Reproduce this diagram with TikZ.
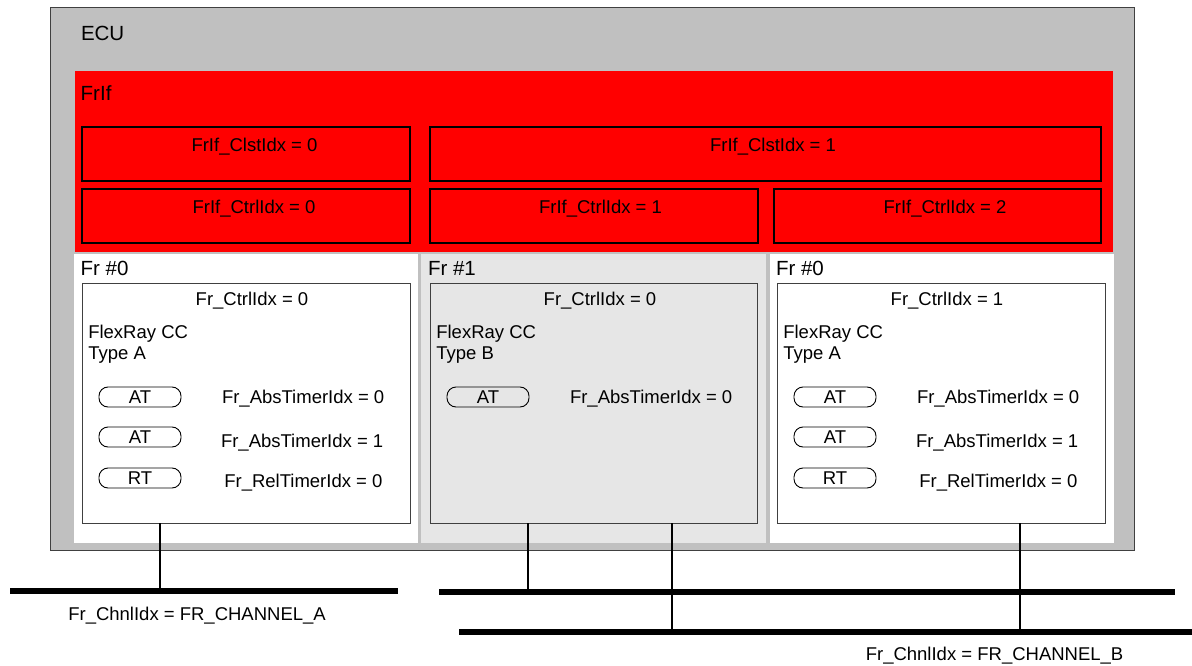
\documentclass[tikz,border=0pt]{standalone}
\usepackage{fontspec}
\setmainfont{Liberation Sans}
\begin{document}
\begin{tikzpicture}[x=1pt,y=-1pt,
  every node/.style={inner sep=0pt,outer sep=0pt},
  txt/.style={font=\fontsize{18.5}{21}\selectfont,anchor=base},
  txtl/.style={font=\fontsize{18.5}{21}\selectfont,anchor=base west},
  hdr/.style={font=\fontsize{20.5}{24}\selectfont,anchor=base west},
  ecubox/.style={draw=black!75,line width=1pt,fill=ecugray,anchor=north west},
  frifbox/.style={fill=red,anchor=north west},
  redbox/.style={draw=black,line width=1.1pt,anchor=north west},
  panelw/.style={fill=white,anchor=north west,minimum width=344,minimum height=289},
  panelg/.style={fill=lightg,anchor=north west,minimum width=345,minimum height=289},
  ccbox/.style={draw=black!75,line width=0.9pt,anchor=north west,minimum width=328,minimum height=240},
  pill/.style={draw=black,line width=0.9pt,rounded corners=9pt,minimum width=82,minimum height=20,font=\fontsize{18.5}{21}\selectfont},
  bus/.style={line width=6pt},
  tap/.style={line width=2.5pt}
]
\definecolor{ecugray}{HTML}{C0C0C0}
\definecolor{lightg}{HTML}{E6E6E6}
\useasboundingbox (0,0) rectangle (1192,666);

% ECU
\node[ecubox,minimum width=1084,minimum height=542] (ecu) at (50,8) {};
\node[hdr] (ecul) at (81,40.7) {ECU};

% FrIf
\node[frifbox,minimum width=1038,minimum height=181] (frif) at (75,71) {};
\node[hdr] (frifl) at (80.7,100.7) {FrIf};
\node[redbox,minimum width=328,minimum height=54] (clst0) at (82,127) {};
\node[redbox,minimum width=671,minimum height=54] (clst1) at (430,127) {};
\node[redbox,minimum width=328,minimum height=54] (ctrl0) at (82,189) {};
\node[redbox,minimum width=328,minimum height=54] (ctrl1) at (430,189) {};
\node[redbox,minimum width=327,minimum height=54] (ctrl2) at (774,189) {};
\node[txt] (clst0l) at (254.5,151.7) {FrIf\_ClstIdx = 0};
\node[txt] (clst1l) at (773,151.7) {FrIf\_ClstIdx = 1};
\node[txt] (ctrl0l) at (254,214) {FrIf\_CtrlIdx = 0};
\node[txt] (ctrl1l) at (600.5,214) {FrIf\_CtrlIdx = 1};
\node[txt] (ctrl2l) at (945,214) {FrIf\_CtrlIdx = 2};

% Fr panels
\node[panelw] (p1) at (74,254) {};
\node[panelg] (p2) at (421,254) {};
\node[panelw] (p3) at (770,254) {};
\node[hdr] (p1l) at (80.7,275) {Fr \#0};
\node[hdr] (p2l) at (428,275) {Fr \#1};
\node[hdr] (p3l) at (776,275) {Fr \#0};

% CC boxes
\node[ccbox,fill=white] (cc1) at (82,283) {};
\node[ccbox,fill=lightg,minimum width=327] (cc2) at (430,283) {};
\node[ccbox,fill=white] (cc3) at (777,283) {};

% CC 1
\node[txt] (cc1i) at (252,305) {Fr\_CtrlIdx = 0};
\node[txtl] (cc1a) at (88.3,338.7) {FlexRay CC};
\node[txtl] (cc1b) at (88.3,359.3) {Type A};
\node[pill] (cc1p1) at (140,397) {AT};
\node[pill] (cc1p2) at (140,437) {AT};
\node[pill] (cc1p3) at (140,478) {RT};
\node[txtl] (cc1t1) at (222,403.3) {Fr\_AbsTimerIdx = 0};
\node[txtl] (cc1t2) at (221,447.3) {Fr\_AbsTimerIdx = 1};
\node[txtl] (cc1t3) at (224.3,487.3) {Fr\_RelTimerIdx = 0};

% CC 2
\node[txt] (cc2i) at (600,305) {Fr\_CtrlIdx = 0};
\node[txtl] (cc2a) at (436.3,338.7) {FlexRay CC};
\node[txtl] (cc2b) at (436.3,359.3) {Type B};
\node[pill] (cc2p1) at (488,397) {AT};
\node[txtl] (cc2t1) at (570,403.3) {Fr\_AbsTimerIdx = 0};

% CC 3
\node[txt] (cc3i) at (947,305) {Fr\_CtrlIdx = 1};
\node[txtl] (cc3a) at (783.3,338.7) {FlexRay CC};
\node[txtl] (cc3b) at (783.3,359.3) {Type A};
\node[pill] (cc3p1) at (835,397) {AT};
\node[pill] (cc3p2) at (835,437) {AT};
\node[pill] (cc3p3) at (835,478) {RT};
\node[txtl] (cc3t1) at (917,403.3) {Fr\_AbsTimerIdx = 0};
\node[txtl] (cc3t2) at (916,447.3) {Fr\_AbsTimerIdx = 1};
\node[txtl] (cc3t3) at (919.3,487.3) {Fr\_RelTimerIdx = 0};

% buses
\coordinate (a1) at (10,591);
\coordinate (a2) at (398,591);
\coordinate (b1) at (439,592);
\coordinate (b2) at (1175,592);
\coordinate (c1) at (459,632);
\coordinate (c2) at (1192,632);
\draw[bus] (a1) -- (a2);
\draw[bus] (b1) -- (b2);
\draw[bus] (c1) -- (c2);

% taps
\coordinate (t1) at (160,591);
\coordinate (t2) at (528,592);
\coordinate (t3) at (672,632);
\coordinate (t4) at (1020,632);
\draw[tap] (cc1.south -| t1) -- (t1);
\draw[tap] (cc2.south -| t2) -- (t2);
\draw[tap] (cc2.south -| t3) -- (t3);
\draw[tap] (cc3.south -| t4) -- (t4);

\node[txtl] (chA) at (68.3,620) {Fr\_ChnlIdx = FR\_CHANNEL\_A};
\node[txtl] (chB) at (865.8,660.7) {Fr\_ChnlIdx = FR\_CHANNEL\_B};
\end{tikzpicture}
\end{document}
